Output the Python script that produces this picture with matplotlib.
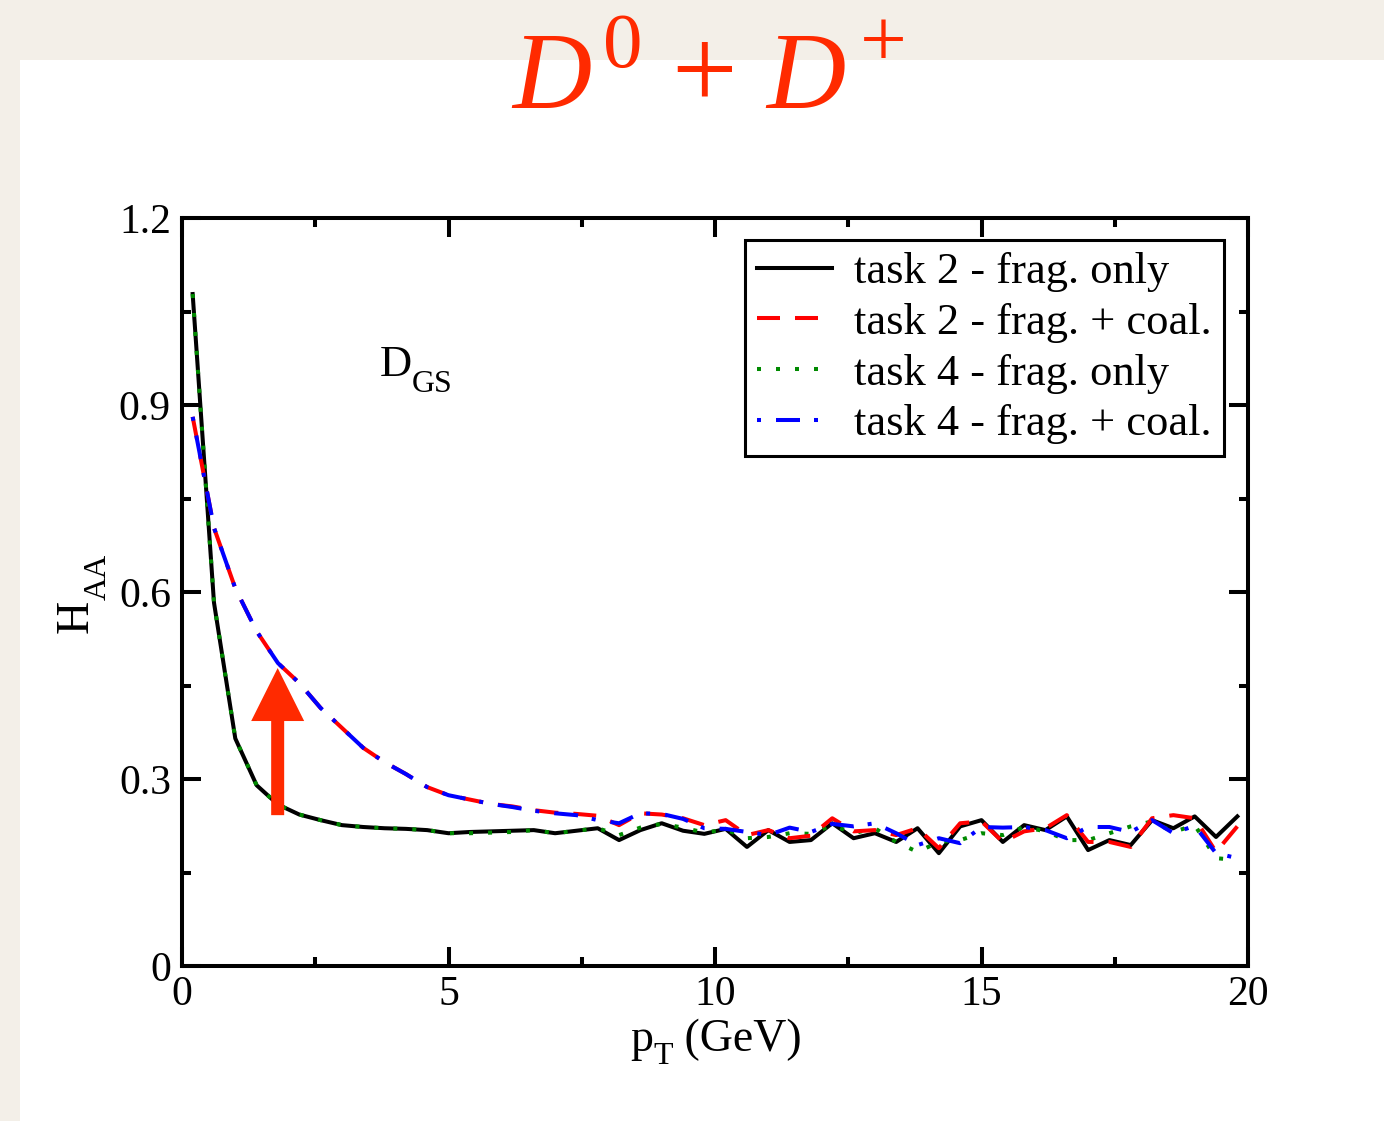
#!/usr/bin/env python3

import numpy as np
import matplotlib
matplotlib.use("Agg")
import matplotlib.pyplot as plt
from matplotlib.patches import Rectangle, FancyArrow
from matplotlib.transforms import IdentityTransform

plt.rcParams['font.family'] = ['Liberation Serif', 'DejaVu Serif']

W, H = 1384, 1121  # px

# pT grid (GeV)
pt = [0.2, 0.6, 1.0, 1.4, 1.8, 2.2, 2.6, 3.0, 3.4, 3.8,
      4.2, 4.6, 5.0, 5.4, 5.8, 6.2, 6.6, 7.0, 7.4, 7.8,
      8.2, 8.6, 9.0, 9.4, 9.8, 10.2, 10.6, 11.0, 11.4, 11.8,
      12.2, 12.6, 13.0, 13.4, 13.8, 14.2, 14.6, 15.0, 15.4, 15.8,
      16.2, 16.6, 17.0, 17.4, 17.8, 18.2, 18.6, 19.0, 19.4, 19.8]

# task 2 - frag. only
t2_frag = [1.078, 0.583, 0.365, 0.290, 0.259, 0.243, 0.234, 0.226, 0.223, 0.221,
           0.220, 0.218, 0.213, 0.215, 0.216, 0.217, 0.218, 0.213, 0.217, 0.221,
           0.202, 0.218, 0.229, 0.217, 0.212, 0.220, 0.191, 0.218, 0.199, 0.202,
           0.229, 0.205, 0.213, 0.199, 0.221, 0.181, 0.224, 0.234, 0.199, 0.226,
           0.218, 0.240, 0.186, 0.202, 0.194, 0.234, 0.221, 0.240, 0.207, 0.240]

# task 2 - frag. + coal.
t2_coal = [0.881, 0.703, 0.606, 0.537, 0.486, 0.454, 0.414, 0.382, 0.350, 0.327,
           0.308, 0.287, 0.274, 0.267, 0.260, 0.256, 0.250, 0.246, 0.244, 0.241,
           0.226, 0.245, 0.243, 0.237, 0.226, 0.234, 0.210, 0.218, 0.205, 0.209,
           0.237, 0.216, 0.218, 0.210, 0.221, 0.189, 0.229, 0.232, 0.199, 0.216,
           0.221, 0.242, 0.199, 0.199, 0.191, 0.237, 0.242, 0.237, 0.183, 0.224]

# task 4 - frag. only
t4_frag = [1.078, 0.583, 0.365, 0.290, 0.259, 0.243, 0.234, 0.226, 0.223, 0.221,
           0.220, 0.218, 0.213, 0.213, 0.214, 0.215, 0.218, 0.213, 0.217, 0.221,
           0.210, 0.222, 0.228, 0.222, 0.214, 0.219, 0.205, 0.207, 0.213, 0.212,
           0.226, 0.213, 0.221, 0.199, 0.183, 0.199, 0.202, 0.213, 0.210, 0.223,
           0.216, 0.202, 0.202, 0.213, 0.224, 0.232, 0.215, 0.226, 0.173, 0.170]

# task 4 - frag. + coal.
t4_coal = [0.881, 0.703, 0.606, 0.537, 0.486, 0.454, 0.414, 0.382, 0.350, 0.327,
           0.308, 0.287, 0.274, 0.267, 0.260, 0.255, 0.249, 0.245, 0.242, 0.234,
           0.229, 0.245, 0.244, 0.236, 0.221, 0.220, 0.215, 0.210, 0.222, 0.215,
           0.228, 0.224, 0.229, 0.213, 0.194, 0.205, 0.197, 0.223, 0.222, 0.223,
           0.218, 0.205, 0.223, 0.223, 0.215, 0.234, 0.213, 0.225, 0.181, 0.173]

LW = 2.9  # pt
PX = 100.0 / 72.0
TITLE_RED = '#ff2a00'


def dash(*px):
    # dash pattern given in pixels -> units of linewidth
    return [p / (PX * LW) for p in px]


fig = plt.figure(figsize=(W / 100, H / 100), dpi=100)
fig.patch.set_facecolor('#f3efe8')
fig.patches.append(Rectangle((20 / W, 0), 1 - 20 / W, 1 - 60 / H,
                             transform=fig.transFigure, facecolor='white',
                             edgecolor='none', zorder=-5))
renderer = fig.canvas.get_renderer()


def run(pieces, x0, y0, center=False, rot=0):
    # pieces: (text, size, drop_px); x0,y0 in px from top-left
    texts = []
    for s, size, drop in pieces:
        t = fig.text(0, 0, s, fontsize=size, color='black',
                     transform=IdentityTransform(), rotation=rot,
                     rotation_mode='anchor', ha='left', va='baseline')
        texts.append((t, drop))
    ext = [t.get_window_extent(renderer) for t, _ in texts]
    lens = [e.width if rot == 0 else e.height for e in ext]
    if rot == 0:
        pos = x0 - sum(lens) / 2 if center else x0
        for (t, drop), ln in zip(texts, lens):
            t.set_position((pos, H - y0 - drop))
            pos += ln
    else:
        pos = (H - y0) - sum(lens) / 2 if center else H - y0
        for (t, drop), ln in zip(texts, lens):
            t.set_position((x0 + drop, pos))
            pos += ln
    return texts


ax = fig.add_axes([182 / W, 155 / H, 1066 / W, 748 / H])

ax.plot(pt, t2_frag, color='black', lw=LW, label='task 2 - frag. only', zorder=2)
ax.plot(pt, t2_coal, color='#ff0000', lw=LW, dashes=dash(23, 15),
        label='task 2 - frag. + coal.', zorder=3)
ax.plot(pt, t4_frag, color='#008a00', lw=LW, dashes=dash(4, 15),
        label='task 4 - frag. only', zorder=2.2)
ax.plot(pt, t4_coal, color='#0000ff', lw=LW, dashes=dash(4, 15, 24, 14),
        label='task 4 - frag. + coal.', zorder=3.2)

arrow = FancyArrow(1.795, 0.242, 0, 0.478 - 0.242, width=13 / 53.3,
                   head_width=53 / 53.3, head_length=0.085,
                   length_includes_head=True, color=TITLE_RED, lw=0, zorder=2.6)
ax.add_patch(arrow)

ax.set_xlim(0, 20)
ax.set_ylim(0, 1.2)
ax.set_xticks([0, 5, 10, 15, 20])
ax.set_xticks([2.5, 7.5, 12.5, 17.5], minor=True)
ax.set_yticks([0, 0.3, 0.6, 0.9, 1.2])
ax.set_yticks([0.15, 0.45, 0.75, 1.05], minor=True)
ax.set_yticklabels(['0', '0.3', '0.6', '0.9', '1.2'])
ax.tick_params(which='both', direction='in', top=True, right=True,
               width=2.9, labelsize=30)
ax.tick_params(which='major', length=14)
ax.tick_params(which='minor', length=6.5)
ax.tick_params(axis='x', pad=7)
ax.tick_params(axis='y', pad=8)
for s in ax.spines.values():
    s.set_linewidth(2.9)

leg = ax.legend(loc='upper right', bbox_to_anchor=(0.9775, 0.9706),
                fontsize=32, handlelength=1.69, handletextpad=0.5,
                labelspacing=0.24, borderpad=0.27, borderaxespad=0,
                fancybox=False, framealpha=1)
leg.get_frame().set_edgecolor('black')
leg.get_frame().set_linewidth(2.2)

# D_GS inside the frame
run([('D', 32, 0), ('GS', 23, 16)], 380, 376)

# axis labels
run([('p', 33, 0), ('T', 23, 13), (' (GeV)', 33, 0)], 716, 1051, center=True)
run([('H', 33, 0), ('AA', 23, 18)], 88, 593, center=True, rot=90)

# title D^0 + D^+
fig.text(512, H - 108, 'D', fontsize=79, style='italic', color=TITLE_RED,
         transform=IdentityTransform(), ha='left', va='baseline')
fig.text(603, H - 67, '0', fontsize=57, color=TITLE_RED,
         transform=IdentityTransform(), ha='left', va='baseline')
fig.text(704, H - 80, '+', fontsize=84, color=TITLE_RED,
         transform=IdentityTransform(), ha='center', va='center')
fig.text(766, H - 108, 'D', fontsize=79, style='italic', color=TITLE_RED,
         transform=IdentityTransform(), ha='left', va='baseline')
fig.text(883, H - 46, '+', fontsize=60, color=TITLE_RED,
         transform=IdentityTransform(), ha='center', va='center')

fig.savefig('out.png', dpi=100, facecolor=fig.get_facecolor())
